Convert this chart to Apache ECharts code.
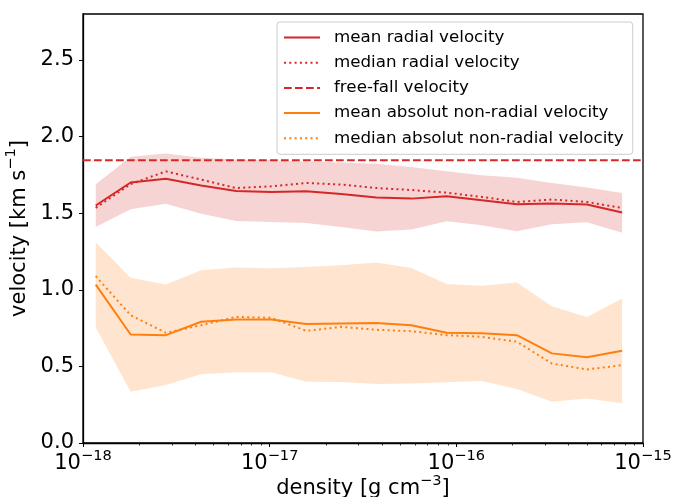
<!DOCTYPE html>
<html>
<head>
<meta charset="utf-8">
<script src="https://cdn.jsdelivr.net/npm/echarts@6/dist/echarts.min.js"></script>
<style>
  html, body { margin: 0; padding: 0; background: #fff; }
  #chart { width: 683px; height: 497px; }
</style>
</head>
<body>
<div id="chart"></div>
<script>
// Density bin centres [g cm^-3]
const density = [1.17e-18, 1.80e-18, 2.78e-18, 4.29e-18, 6.61e-18, 1.02e-17, 1.57e-17, 2.42e-17,
                 3.73e-17, 5.75e-17, 8.87e-17, 1.37e-16, 2.11e-16, 3.25e-16, 5.01e-16, 7.73e-16];

// Radial velocity statistics [km/s]
const meanRadial   = [1.55, 1.70, 1.725, 1.68, 1.645, 1.638, 1.643, 1.625, 1.602, 1.595, 1.610, 1.584, 1.558, 1.563, 1.556, 1.504];
const medianRadial = [1.535, 1.69, 1.773, 1.719, 1.664, 1.675, 1.697, 1.687, 1.664, 1.651, 1.634, 1.606, 1.573, 1.589, 1.573, 1.534];
const radialLow    = [1.410, 1.525, 1.562, 1.497, 1.449, 1.443, 1.436, 1.410, 1.380, 1.393, 1.448, 1.421, 1.382, 1.427, 1.441, 1.373];
const radialHigh   = [1.688, 1.868, 1.889, 1.862, 1.851, 1.845, 1.838, 1.830, 1.823, 1.801, 1.773, 1.747, 1.732, 1.697, 1.667, 1.632];

// Absolute non-radial velocity statistics [km/s]
const meanNonRadial   = [1.034, 0.708, 0.704, 0.791, 0.806, 0.806, 0.776, 0.780, 0.784, 0.769, 0.719, 0.717, 0.704, 0.585, 0.559, 0.602];
const medianNonRadial = [1.089, 0.834, 0.719, 0.769, 0.823, 0.817, 0.732, 0.758, 0.739, 0.730, 0.704, 0.693, 0.661, 0.519, 0.480, 0.508];
const nonRadialLow    = [0.754, 0.335, 0.378, 0.448, 0.461, 0.461, 0.400, 0.398, 0.385, 0.389, 0.396, 0.404, 0.352, 0.269, 0.291, 0.259];
const nonRadialHigh   = [1.308, 1.078, 1.034, 1.128, 1.145, 1.141, 1.149, 1.160, 1.178, 1.143, 1.037, 1.026, 1.048, 0.893, 0.823, 0.943];

// Free-fall velocity [km/s]
const FREE_FALL = 1.845;

// Axes
const X_MIN = 1e-18, X_MAX = 1e-15;
const X_TICKS = [1e-18, 1e-17, 1e-16, 1e-15];
const X_MINOR_MULT = [2, 3, 4, 5, 6, 7, 8, 9];
const Y_MIN = 0, Y_MAX = 2.8;
const Y_TICKS = [0, 0.5, 1.0, 1.5, 2.0, 2.5];

const RED = '#d62728';
const ORANGE = '#ff7f0e';
const RED_FILL = 'rgba(214,39,40,0.2)';
const ORANGE_FILL = 'rgba(255,127,14,0.2)';
const FONT = 'DejaVu Sans';

const xMinor = [];
X_TICKS.slice(0, -1).forEach(d => X_MINOR_MULT.forEach(m => xMinor.push(m * d)));

const pairs = ys => density.map((x, i) => [x, ys[i]]);

// Shaded range between lo and hi, drawn as one polygon through the axis scales
function bandSeries(lo, hi, fill) {
  return {
    type: 'custom', silent: true, z: 1, clip: true,
    data: density.map((x, i) => [x, lo[i], hi[i]]),
    encode: { x: 0, y: [1, 2] },
    renderItem: (params, api) => {
      if (params.dataIndex !== 0) return null;
      const upper = [], lower = [];
      for (let i = 0; i < density.length; i++) {
        upper.push(api.coord([density[i], hi[i]]));
        lower.push(api.coord([density[i], lo[i]]));
      }
      return {
        type: 'polygon',
        shape: { points: upper.concat(lower.reverse()) },
        style: { fill: fill, stroke: null }
      };
    }
  };
}

function lineSeries(name, ys, color, type) {
  return {
    name: name, type: 'line', data: pairs(ys), symbol: 'none', z: 3,
    lineStyle: { color: color, width: 2, type: type },
    itemStyle: { color: color, opacity: 0 }
  };
}

const DOTTED = [2, 3.3];
const DASHED = [7.7, 3.3];

const supRich = {
  b: { fontFamily: FONT, fontSize: 21, color: '#000', lineHeight: 30 },
  s: { fontFamily: FONT, fontSize: 14.6, color: '#000', verticalAlign: 'top', lineHeight: 17 }
};

const chart = echarts.init(document.getElementById('chart'), null, { renderer: 'canvas' });

chart.setOption({
  animation: false,
  backgroundColor: '#fff',
  grid: {
    left: 83, right: 40, top: 14, bottom: 54, outerBoundsMode: 'none', containLabel: false,
    show: true, borderColor: '#000', borderWidth: 1.3, backgroundColor: 'transparent'
  },
  legend: {
    orient: 'vertical', left: 277, top: 22,
    data: ['mean radial velocity', 'median radial velocity', 'free-fall velocity',
           'mean absolut non-radial velocity', 'median absolut non-radial velocity'],
    itemWidth: 36, itemHeight: 14, itemGap: 5.2,
    padding: [5.5, 9, 6, 6],
    backgroundColor: 'rgba(255,255,255,0.8)', borderColor: '#cccccc', borderWidth: 1, borderRadius: 3,
    itemStyle: { opacity: 0 },
    textStyle: { fontFamily: FONT, fontSize: 16.7, color: '#000', lineHeight: 20, padding: [0, 0, 0, 9] },
    selectedMode: false
  },
  xAxis: [
    {
      type: 'log', logBase: 10, min: X_MIN, max: X_MAX,
      name: '{b|density [g cm}{s|−3}{b|]}', nameLocation: 'middle', nameGap: 31, nameMoveOverlap: false,
      nameTextStyle: { rich: supRich },
      axisLine: { lineStyle: { color: '#000', width: 1.3 } },
      axisTick: { show: true, length: 4, lineStyle: { color: '#000', width: 1 }, customValues: X_TICKS },
      axisLabel: {
        customValues: X_TICKS, margin: 6,
        formatter: v => '{b|10}{s|−' + Math.abs(Math.round(Math.log10(v))) + '}',
        rich: supRich
      },
      splitLine: { show: false }, minorTick: { show: false }
    },
    {
      type: 'log', logBase: 10, min: X_MIN, max: X_MAX, position: 'bottom',
      axisLine: { show: false },
      axisTick: { show: true, length: 2.5, lineStyle: { color: '#000', width: 0.8 }, customValues: xMinor },
      axisLabel: { show: false },
      splitLine: { show: false }
    }
  ],
  yAxis: {
    type: 'value', min: Y_MIN, max: Y_MAX, interval: 0.5,
    name: '{b|velocity [km s}{s|−1}{b|]}', nameLocation: 'middle', nameGap: 40,
    nameTextStyle: { rich: supRich },
    axisLine: { show: true, lineStyle: { color: '#000', width: 1.3 } },
    axisTick: { show: true, length: 4, lineStyle: { color: '#000', width: 1 }, customValues: Y_TICKS },
    axisLabel: {
      customValues: Y_TICKS, margin: 9,
      fontFamily: FONT, fontSize: 21, color: '#000',
      formatter: v => v.toFixed(1)
    },
    splitLine: { show: false }
  },
  series: [
    bandSeries(radialLow, radialHigh, RED_FILL),
    bandSeries(nonRadialLow, nonRadialHigh, ORANGE_FILL),
    lineSeries('mean radial velocity', meanRadial, RED, 'solid'),
    lineSeries('median radial velocity', medianRadial, RED, DOTTED),
    {
      name: 'free-fall velocity', type: 'line', symbol: 'none', z: 3,
      data: [[X_MIN, FREE_FALL], [X_MAX, FREE_FALL]],
      lineStyle: { color: RED, width: 2, type: DASHED }, itemStyle: { color: RED, opacity: 0 }
    },
    lineSeries('mean absolut non-radial velocity', meanNonRadial, ORANGE, 'solid'),
    lineSeries('median absolut non-radial velocity', medianNonRadial, ORANGE, DOTTED)
  ]
});
</script>
</body>
</html>
